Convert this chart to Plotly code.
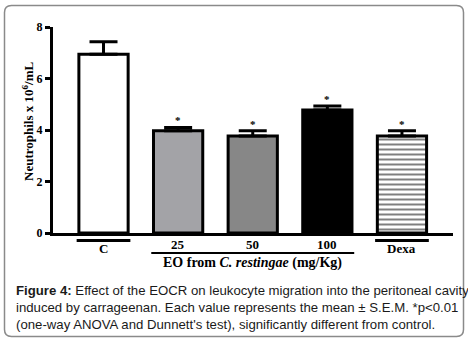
import plotly.graph_objects as go

categories = ["C", "25", "50", "100", "Dexa"]
means = [6.94, 3.97, 3.77, 4.78, 3.77]
sems = [0.49, 0.13, 0.20, 0.15, 0.20]
significant = [False, True, True, True, True]
bar_colors = ["#ffffff", "#a3a3a7", "#878787", "#000000", "#ffffff"]
y_ticks = [0, 2, 4, 6, 8]
group_label = "EO from <i>C. restingae</i> (mg/Kg)"
y_title = "Neutrophils x 10<sup>6</sup>/mL"
caption = ("<b>Figure 4:</b> Effect of the EOCR on leukocyte migration into the peritoneal cavity<br>"
           "induced by carrageenan. Each value represents the mean ± S.E.M. *p&lt;0.01<br>"
           "(one-way ANOVA and Dunnett's test), significantly different from control.")

xs = list(range(len(categories)))
BW = 0.66
serif = "Liberation Serif"

fig = go.Figure()
patterns = [dict(shape="")] * 4 + [dict(shape="-", fgcolor="#000000", bgcolor="#ffffff", size=5, solidity=0.4)]
for i in xs:
    fig.add_trace(go.Bar(
        x=[xs[i]], y=[means[i]], width=BW,
        marker=dict(color=bar_colors[i], line=dict(color="#000000", width=3), pattern=patterns[i]),
        error_y=dict(type="data", array=[sems[i]], arrayminus=[0], symmetric=False,
                     color="#000000", thickness=3, width=14),
        showlegend=False, hoverinfo="skip",
    ))

annotations = []
shapes = []
# significance stars
for i in xs:
    if significant[i]:
        annotations.append(dict(x=xs[i], y=means[i] + sems[i], xref="x", yref="y", text="<b>*</b>",
                                xanchor="center", yanchor="middle",
                                showarrow=False, yshift=7, font=dict(family=serif, size=11, color="#000")))

def py(p):
    return (233 - p) / 206.0

def px(p):
    return (p - 53) / 400.0

# category labels and lines
for i in [0, 4]:
    shapes.append(dict(type="line", xref="x", yref="paper", x0=xs[i] - 0.36, x1=xs[i] + 0.36,
                       y0=py(240.5), y1=py(240.5), line=dict(color="#000", width=3)))
    annotations.append(dict(x=xs[i], y=py(248.5), xref="x", yref="paper", text="<b>%s</b>" % categories[i],
                            xanchor="center", yanchor="middle",
                            showarrow=False, font=dict(family=serif, size=13, color="#000")))
for i in [1, 2, 3]:
    annotations.append(dict(x=xs[i], y=py(244.5), xref="x", yref="paper", text="<b>%s</b>" % categories[i],
                            xanchor="center", yanchor="middle",
                            showarrow=False, font=dict(family=serif, size=13, color="#000")))
shapes.append(dict(type="line", xref="x", yref="paper", x0=xs[1] - 0.36, x1=xs[3] + 0.36,
                   y0=py(253), y1=py(253), line=dict(color="#000", width=2)))
annotations.append(dict(x=(xs[1] + xs[3]) / 2, y=py(263), xref="x", yref="paper", text="<b>%s</b>" % group_label,
                        xanchor="center", yanchor="middle",
                        showarrow=False, font=dict(family=serif, size=14, color="#000")))

# y-axis title
annotations.append(dict(x=px(28), y=py(122), xref="paper", yref="paper", text="<b>%s</b>" % y_title,
                        xanchor="center", yanchor="middle",
                        textangle=-90, showarrow=False, font=dict(family=serif, size=13, color="#000")))

# caption
annotations.append(dict(x=px(14), y=py(281), xref="paper", yref="paper", xanchor="left", yanchor="top",
                        align="left", text=caption, showarrow=False,
                        font=dict(family="Liberation Sans", size=13.2, color="#1a1a1a")))

# rounded border
x0, x1, y0, y1 = 4.5, 463.5, 5.5, 336.5
r = 7
def P(a, b):
    return "%.5f,%.5f" % (px(a), py(b))
path = ("M" + P(x0 + r, y0) + " L" + P(x1 - r, y0) + " Q" + P(x1, y0) + " " + P(x1, y0 + r) +
        " L" + P(x1, y1 - r) + " Q" + P(x1, y1) + " " + P(x1 - r, y1) +
        " L" + P(x0 + r, y1) + " Q" + P(x0, y1) + " " + P(x0, y1 - r) +
        " L" + P(x0, y0 + r) + " Q" + P(x0, y0) + " " + P(x0 + r, y0) + " Z")
shapes.append(dict(type="path", xref="paper", yref="paper", path=path, layer="above",
                   line=dict(color="#8a8a8a", width=1.5)))

fig.update_layout(
    width=468, height=340,
    margin=dict(l=53, r=15, t=27, b=107),
    paper_bgcolor="#ffffff", plot_bgcolor="#ffffff",
    barmode="overlay",
    xaxis=dict(range=[-0.677, 4.684], showticklabels=False, ticks="", showgrid=False, zeroline=False,
               showline=True, linecolor="#000", linewidth=3, fixedrange=True),
    yaxis=dict(range=[0, 8], tickvals=y_ticks, ticktext=["<b>%d</b>" % v for v in y_ticks],
               ticks="outside", ticklen=5, tickwidth=3, tickcolor="#000",
               showgrid=False, zeroline=False, showline=True, linecolor="#000", linewidth=3,
               tickfont=dict(family=serif, size=12, color="#000"), fixedrange=True),
    annotations=annotations, shapes=shapes,
)

fig.write_html("out.html", config={"displayModeBar": False},
               post_script="document.body.style.margin='0';document.body.style.overflow='hidden';")
